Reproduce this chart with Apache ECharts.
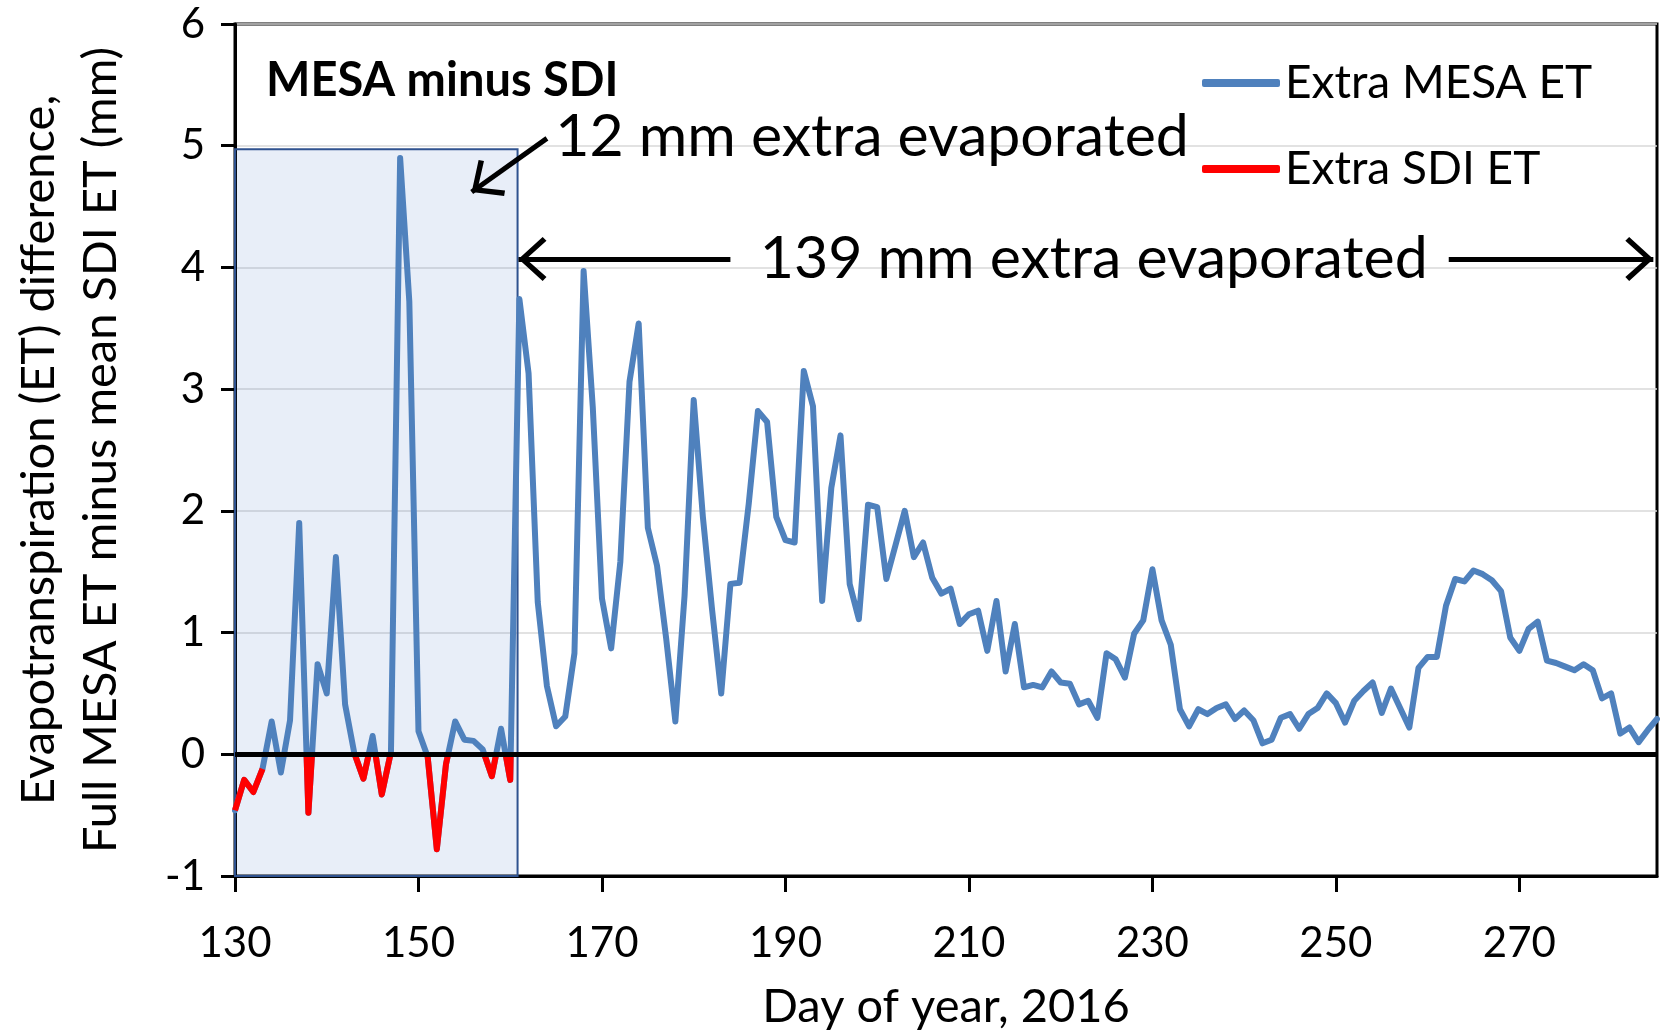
<!DOCTYPE html>
<html>
<head>
<meta charset="utf-8">
<script src="https://cdn.jsdelivr.net/npm/echarts@6/dist/echarts.min.js"></script>
<style>
html,body{margin:0;padding:0;background:#ffffff;}
#chart{width:1673px;height:1031px;}
</style>
</head>
<body>
<div id="chart"></div>
<script>
// ---- data ----
const startDay = 130;
// daily ET difference, MESA minus SDI (mm), day 130 ... 285
const mesaMinusSdi = [
  -0.46, -0.21, -0.31, -0.12, 0.27, -0.15, 0.28, 1.90, -0.48, 0.74,
   0.50,  1.62,  0.41,  0.01, -0.20, 0.15, -0.33, 0.02, 4.90, 3.72,
   0.19, -0.02, -0.78, -0.08, 0.27, 0.12, 0.11, 0.04, -0.18, 0.21,
  -0.21,  3.74,  3.13,  1.25, 0.56, 0.23, 0.31, 0.83, 3.97, 2.85,
   1.28,  0.87,  1.58,  3.06, 3.54, 1.86, 1.55, 0.95, 0.27, 1.30,
   2.91,  1.95,  1.19,  0.50, 1.40, 1.41, 2.06, 2.82, 2.73, 1.95,
   1.76,  1.74,  3.15,  2.86, 1.26, 2.19, 2.62, 1.40, 1.11, 2.05,
   2.03,  1.44,  1.72,  2.00, 1.62, 1.74, 1.45, 1.32, 1.36, 1.07,
   1.15,  1.18,  0.85,  1.26, 0.68, 1.07, 0.55, 0.57, 0.55, 0.68,
   0.59,  0.58,  0.41,  0.44, 0.30, 0.83, 0.78, 0.63, 0.99, 1.10,
   1.52,  1.10,  0.90,  0.37, 0.23, 0.37, 0.33, 0.38, 0.41, 0.29,
   0.36,  0.28,  0.09,  0.12, 0.30, 0.33, 0.21, 0.33, 0.38, 0.50,
   0.42,  0.26,  0.44,  0.52, 0.59, 0.34, 0.54, 0.38, 0.22, 0.71,
   0.80,  0.80,  1.22,  1.44, 1.42, 1.51, 1.48, 1.43, 1.34, 0.96,
   0.85,  1.03,  1.09,  0.77, 0.75, 0.72, 0.69, 0.74, 0.69, 0.46,
   0.50,  0.17,  0.22,  0.10, 0.20, 0.29
];
// days whose segments are drawn in red where SDI ET exceeds MESA ET
const sdiHigherDays = [130,131,132,133,137,138,139,143,144,145,146,147,150,151,152,153,154,157,158,159,160,161];
const xTickLabels = [130,150,170,190,210,230,250,270];
const yTickLabels = [-1,0,1,2,3,4,5,6];
const seriesNames = ['Extra MESA ET','Extra SDI ET'];
// annotation anchors (data coordinates)
const earlyPeriod = [130, 160.8, -1, 4.97];   // shaded box: day from, day to, y from, y to
const totalEarly = '12 mm extra evaporated';
const totalLate = '139 mm extra evaporated';

// ---- build ----
const mesaData = mesaMinusSdi.map((v, i) => [startDay + i, v]);
const sdiData = mesaMinusSdi.map((v, i) => sdiHigherDays.includes(startDay + i) ? [startDay + i, v] : [startDay + i, null]);

const FONT = 'Lato';
const BLUE = '#4F81BD';
const RED = '#FF0000';
// open chevron pointing "up", tip placed at symbol centre
const chevron = 'path://M20,-25.5 M0,22 L20,0 L40,22 L36.5,25.5 L20,7 L3.5,25.5 Z';
const chevSize = [44, 56];

const chart = echarts.init(document.getElementById('chart'), null, {renderer: 'canvas'});
chart.setOption({
  animation: false,
  backgroundColor: '#ffffff',
  title: {
    text: 'MESA minus SDI',
    left: 266, top: 57, padding: 0,
    textStyle: {fontFamily: FONT, fontWeight: 'bold', fontSize: 47, color: '#000'}
  },
  legend: {
    orient: 'vertical', left: 1197, top: 54,
    itemWidth: 78, itemHeight: 8, itemGap: 38,
    icon: 'roundRect',
    textStyle: {fontFamily: FONT, fontSize: 46, color: '#000', lineHeight: 48},
    data: [
      {name: seriesNames[0], itemStyle: {color: BLUE}},
      {name: seriesNames[1], itemStyle: {color: RED}}
    ]
  },
  grid: {
    left: 235, right: 16, top: 24, bottom: 155,
    outerBoundsMode: 'none', containLabel: false,
    show: true, borderColor: '#000', borderWidth: 3, backgroundColor: 'transparent'
  },
  xAxis: {
    type: 'value', min: 130, max: 285,
    name: 'Day of year, 2016', nameLocation: 'middle', nameGap: 107,
    nameTextStyle: {fontFamily: FONT, fontSize: 47, color: '#000'},
    axisLine: {show: true, onZero: false, lineStyle: {color: '#000', width: 3}},
    axisTick: {show: true, inside: false, length: 16, lineStyle: {color: '#000', width: 3}, customValues: xTickLabels},
    axisLabel: {fontFamily: FONT, fontSize: 42, color: '#000', margin: 46, customValues: xTickLabels},
    splitLine: {show: false}
  },
  yAxis: {
    type: 'value', min: yTickLabels[0], max: yTickLabels[yTickLabels.length - 1], interval: 1,
    name: 'Evapotranspiration (ET) difference,\nFull MESA ET minus mean SDI ET (mm)',
    nameLocation: 'middle', nameRotate: 90, nameGap: 103,
    nameTextStyle: {fontFamily: FONT, fontSize: 47, color: '#000', lineHeight: 62},
    axisLine: {show: true, onZero: false, lineStyle: {color: '#000', width: 3}},
    axisTick: {show: true, inside: false, length: 14, lineStyle: {color: '#000', width: 3}},
    axisLabel: {fontFamily: FONT, fontSize: 42, color: '#000', margin: 30},
    splitLine: {show: true, lineStyle: {color: '#D9D9D9', width: 1.5}}
  },
  visualMap: [{
    type: 'piecewise', show: false, seriesIndex: 1, dimension: 1,
    pieces: [{gte: -1, lt: 0, color: RED}, {gte: 0, lte: 6, color: 'rgba(255,0,0,0)'}]
  }],
  series: [
    {
      name: seriesNames[0], type: 'line', data: mesaData, z: 2,
      showSymbol: false, symbol: 'none',
      lineStyle: {color: BLUE, width: 6, join: 'round', cap: 'round'},
      itemStyle: {color: BLUE},
      markArea: {
        silent: true,
        itemStyle: {color: 'rgba(68,114,196,0.12)', borderColor: '#2F528F', borderWidth: 2},
        data: [[{coord: [earlyPeriod[0], earlyPeriod[2]]}, {coord: [earlyPeriod[1], earlyPeriod[3]]}]]
      }
    },
    {
      name: seriesNames[1], type: 'line', data: sdiData, z: 3,
      showSymbol: false, symbol: 'none', connectNulls: false,
      lineStyle: {width: 6, join: 'round', cap: 'butt'},
      markLine: {
        silent: true, symbol: ['none', 'none'],
        label: {show: false},
        lineStyle: {color: '#000', width: 5, type: 'solid'},
        emphasis: {disabled: true},
        data: [
          {yAxis: 0},
          [{coord: [160.9, 4.07], symbol: chevron, symbolSize: chevSize}, {coord: [184.0, 4.07], symbol: 'none'}],
          [{coord: [262.3, 4.07], symbol: 'none'}, {coord: [284.6, 4.07], symbol: chevron, symbolSize: chevSize}],
          [{coord: [164.0, 5.06], symbol: 'none'}, {coord: [155.8, 4.62], symbol: chevron, symbolSize: chevSize}]
        ]
      },
      markPoint: {
        silent: true, symbol: 'rect', symbolSize: 1,
        itemStyle: {color: 'rgba(0,0,0,0)'},
        label: {show: true, position: 'inside', fontFamily: FONT, fontSize: 59, color: '#000', verticalAlign: 'middle'},
        data: [
          {coord: [164.9, 5.07], label: {formatter: totalEarly, align: 'left'}},
          {coord: [223.6, 4.07], label: {formatter: totalLate, align: 'center'}}
        ]
      }
    }
  ]
});
</script>
</body>
</html>
